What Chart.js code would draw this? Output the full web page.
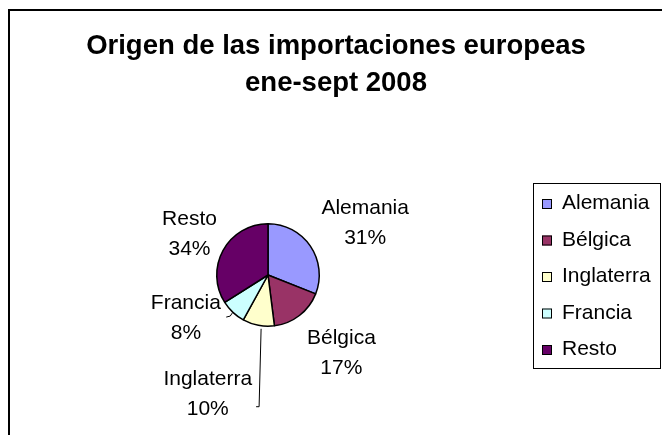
<!DOCTYPE html>
<html>
<head>
<meta charset="utf-8">
<script src="https://cdn.jsdelivr.net/npm/chart.js@4/dist/chart.umd.min.js"></script>
<style>
  html, body { margin: 0; padding: 0; background: #fff; }
  #wrap { width: 662px; height: 435px; }
</style>
</head>
<body>
<div id="wrap"><canvas id="c" width="662" height="435"></canvas></div>
<script>
// ---- data ----
const categories = ['Alemania', 'Bélgica', 'Inglaterra', 'Francia', 'Resto'];
const shares = [31, 17, 10, 8, 34];
const sliceColors = ['#9999FF', '#993366', '#FFFFCC', '#CCFFFF', '#660066'];
const titleLines = ['Origen de las importaciones europeas', 'ene-sept 2008'];

const FONT = "'Liberation Sans', Arial, sans-serif";

const framePlugin = {
  id: 'frame',
  beforeDraw(chart, args, opts) {
    const ctx = chart.ctx;
    ctx.save();
    ctx.fillStyle = '#fff';
    ctx.fillRect(0, 0, chart.width, chart.height);
    ctx.strokeStyle = '#000';
    ctx.lineWidth = 2;
    ctx.strokeRect(9, 10, 700, 500);
    // title (real text)
    ctx.fillStyle = '#000';
    ctx.font = opts.titleFont;
    ctx.textAlign = 'center';
    ctx.textBaseline = 'middle';
    opts.lines.forEach((t, i) => ctx.fillText(t, opts.titleX, opts.titleY + i * opts.titleGap));
    ctx.restore();
  }
};

const labelPlugin = {
  id: 'sliceLabels',
  afterDatasetsDraw(chart, args, opts) {
    const ctx = chart.ctx;
    const meta = chart.getDatasetMeta(0);
    const ds = chart.data.datasets[0];
    const total = ds.data.reduce((a, b) => a + b, 0);
    ctx.save();
    ctx.font = opts.font;
    ctx.fillStyle = '#000';
    ctx.textAlign = 'center';
    ctx.textBaseline = 'middle';
    meta.data.forEach((arc, i) => {
      const p = arc.getProps(['x', 'y', 'startAngle', 'endAngle', 'outerRadius'], true);
      const midA = (p.startAngle + p.endAngle) / 2;
      const a = midA + opts.angleShift[i] * Math.PI / 180;
      const d = p.outerRadius * opts.distance[i];
      const lx = p.x + Math.cos(a) * d;
      const ly = p.y + Math.sin(a) * d + 1;
      const pct = Math.round(ds.data[i] / total * 100) + '%';
      ctx.fillText(chart.data.labels[i], lx, ly - opts.lineGap / 2);
      ctx.fillText(pct, lx, ly + opts.lineGap / 2);

      const lead = opts.leaders[i];
      if (lead) {
        ctx.strokeStyle = '#000';
        ctx.lineWidth = 1;
        const ea = midA + lead.angleShift * Math.PI / 180;
        const er = p.outerRadius + lead.gap;
        const x0 = p.x + Math.cos(ea) * er;
        const y0 = p.y + Math.sin(ea) * er;
        ctx.beginPath();
        ctx.moveTo(x0, y0);
        if (lead.kind === 'drop') {
          const y1 = ly + opts.lineGap / 2 - 2;
          ctx.lineTo(x0 - 2, y1);
          ctx.lineTo(x0 - 5, y1);
        } else {
          ctx.quadraticCurveTo(x0 - 1, y0 + 4, x0 - 6, y0 + 4);
        }
        ctx.stroke();
      }
    });
    ctx.restore();
  }
};

const boxLegendPlugin = {
  id: 'boxLegend',
  afterDraw(chart, args, opts) {
    const ctx = chart.ctx;
    const ds = chart.data.datasets[0];
    ctx.save();
    ctx.strokeStyle = '#000';
    ctx.lineWidth = 1;
    ctx.strokeRect(opts.x + 0.5, opts.y + 0.5, opts.w, opts.h);
    ctx.font = opts.font;
    ctx.textAlign = 'left';
    ctx.textBaseline = 'middle';
    chart.data.labels.forEach((lab, i) => {
      const cy = opts.firstY + i * opts.step;
      ctx.fillStyle = ds.backgroundColor[i];
      ctx.fillRect(opts.x + 9, cy - 4.5, 10, 10);
      ctx.strokeRect(opts.x + 9.5, cy - 4, 9, 9);
      ctx.fillStyle = '#000';
      ctx.fillText(lab, opts.x + 29, cy);
    });
    ctx.restore();
  }
};

new Chart(document.getElementById('c'), {
  type: 'pie',
  data: {
    labels: categories,
    datasets: [{
      data: shares,
      backgroundColor: sliceColors,
      borderColor: '#000',
      borderWidth: 1.5,
      hoverBorderWidth: 1.5,
      hoverOffset: 0
    }]
  },
  options: {
    responsive: false,
    animation: false,
    events: [],
    layout: { padding: { left: 216, right: 342, top: 170, bottom: 55 } },
    plugins: {
      legend: { display: false },
      tooltip: { enabled: false },
      title: { display: false },
      frame: {
        lines: titleLines,
        titleFont: "bold 27.5px " + FONT,
        titleX: 336, titleY: 46, titleGap: 37
      },
      sliceLabels: {
        font: "21px " + FONT,
        lineGap: 30,
        angleShift: [5.6, -5.7, 16.3, 19.7, -0.5],
        distance: [2.16, 2.08, 2.58, 1.80, 1.74],
        leaders: [null, null, { kind: 'drop', angleShift: -3.5, gap: 3 }, { kind: 'tick', angleShift: 0, gap: 1 }, null]
      },
      boxLegend: {
        x: 533, y: 183, w: 127, h: 185,
        firstY: 203.5, step: 36.5,
        font: "21px " + FONT
      }
    }
  },
  plugins: [framePlugin, labelPlugin, boxLegendPlugin]
});
</script>
</body>
</html>
